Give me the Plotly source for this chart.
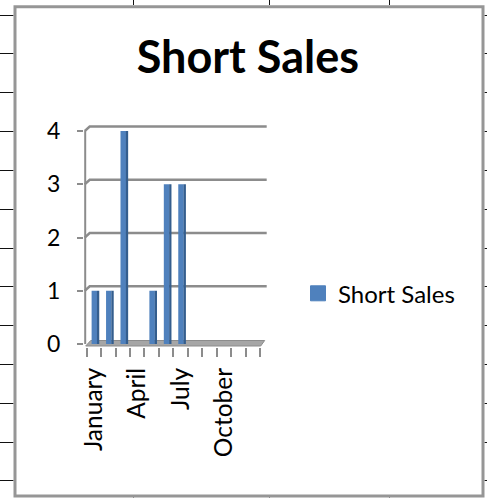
import plotly.graph_objects as go

# ---------------- data ----------------
months = ["January", "February", "March", "April", "May", "June",
          "July", "August", "September", "October", "November", "December"]
short_sales = [1, 1, 4, 0, 1, 3, 3, None, None, None, None, None]
x_tick_text = ["January", "", "", "April", "", "", "July", "", "", "October", "", ""]
y_tick_vals = [0, 1, 2, 3, 4]
series_name = "Short Sales"
chart_title = "Short Sales"

# ---------------- geometry / style ----------------
W, H = 487, 498
L, R, T, B = 84, 268, 124, 347          # plot area in pixels
FONT = "Lato"
FRONT = "#4f81bd"
SIDE = "#345e8e"
GRID = "#8c8c8c"


def px(x):
    return (x - L) / (R - L)


def py(y):
    return (B - y) / (B - T)


fig = go.Figure()

# front face of the 3-D columns
fig.add_trace(go.Bar(
    x=months, y=short_sales, name=series_name,
    offset=-0.16, width=0.38,
    marker=dict(color=FRONT, line=dict(width=0)),
    showlegend=False, hoverinfo="skip"))
# darker side face of the 3-D columns
fig.add_trace(go.Bar(
    x=months, y=short_sales, name=series_name,
    offset=0.21, width=0.16,
    marker=dict(color=SIDE, line=dict(width=0)),
    showlegend=False, hoverinfo="skip"))
# legend entry
fig.add_trace(go.Scatter(
    x=[None], y=[None], mode="markers", name=series_name,
    marker=dict(symbol="square", size=15, color=FRONT,
                line=dict(color=FRONT, width=1)),
    showlegend=True))

shapes = []
# back-wall gridlines (with small perspective diagonal at the left)
for v in y_tick_vals[1:]:
    shapes.append(dict(
        type="path", layer="below",
        xref="x", yref="y", xsizemode="pixel", ysizemode="pixel",
        xanchor=-0.5, yanchor=v,
        path="M -2,0 L 3,4.5 L 180,4.5",
        line=dict(color=GRID, width=2.5)))
# floor
shapes.append(dict(
    type="path", layer="below",
    xref="x", yref="y", xsizemode="pixel", ysizemode="pixel",
    xanchor=-0.5, yanchor=0,
    path="M -1,-2 L 174,-2 L 178,3.5 L 4,3.5 Z",
    fillcolor="#a6a6a6", line=dict(color=GRID, width=1)))
# front value axis line
shapes.append(dict(
    type="line", layer="below",
    xref="x", yref="y", xsizemode="pixel",
    xanchor=-0.5, x0=-1.5, x1=-1.5, y0=0, y1=4,
    line=dict(color=GRID, width=2)))

# spreadsheet grid visible around the chart
rows = [15.5, 53.5, 92.5, 131.5, 170.5, 209.5, 248.5, 286.5, 325.5, 364.5,
        403.5, 442.5, 480.5]
cols = [133.5, 269.5, 389.5]
for r in rows:
    shapes.append(dict(type="line", xref="paper", yref="paper",
                       x0=px(0), x1=px(13.5), y0=py(r), y1=py(r),
                       line=dict(color="#111111", width=1)))
    shapes.append(dict(type="line", xref="paper", yref="paper",
                       x0=px(484.5), x1=px(487), y0=py(r), y1=py(r),
                       line=dict(color="#111111", width=1)))
for c in cols:
    shapes.append(dict(type="line", xref="paper", yref="paper",
                       x0=px(c), x1=px(c), y0=py(0), y1=py(5),
                       line=dict(color="#111111", width=1)))
    shapes.append(dict(type="line", xref="paper", yref="paper",
                       x0=px(c), x1=px(c), y0=py(497.5), y1=py(498),
                       line=dict(color="#111111", width=1)))
# chart border
shapes.append(dict(type="rect", xref="paper", yref="paper",
                   x0=px(15), x1=px(483), y0=py(6.7), y1=py(496),
                   line=dict(color="#969696", width=3),
                   fillcolor="rgba(0,0,0,0)"))

y0_px = 344.0
unit = 53.25
fig.update_layout(
    width=W, height=H,
    margin=dict(l=L, r=W - R, t=T, b=H - B, pad=0),
    paper_bgcolor="white", plot_bgcolor="rgba(0,0,0,0)",
    barmode="overlay",
    font=dict(family=FONT, color="black"),
    title=dict(text="<b>" + chart_title + "</b>", x=0.509, xanchor="center",
               xref="container", yref="container",
               y=1 - 57.5 / H, yanchor="middle",
               font=dict(size=45, family=FONT, color="black")),
    legend=dict(xref="container", yref="container",
                x=298 / W, xanchor="left", y=1 - 293.7 / H, yanchor="middle",
                font=dict(size=24, family=FONT, color="black"),
                bgcolor="rgba(0,0,0,0)", itemclick=False),
    shapes=shapes,
    xaxis=dict(type="category", categoryorder="array", categoryarray=months,
               tickvals=months, ticktext=x_tick_text, tickson="boundaries",
               range=[-0.5 - (86.7 - L) / 14.44, 11.5 + (R - 260) / 14.44],
               ticks="outside", ticklen=9, tickwidth=2, tickcolor=GRID,
               tickangle=-90, ticklabelstandoff=15,
               tickfont=dict(size=24.5, family=FONT, color="black"),
               showgrid=False, showline=False, zeroline=False,
               fixedrange=True),
    yaxis=dict(range=[-(B - y0_px) / unit, 4 + (y0_px - 4 * unit - T) / unit],
               tickvals=y_tick_vals, ticks="outside", ticklen=6, tickwidth=2,
               tickcolor=GRID, ticklabelstandoff=12,
               tickfont=dict(size=23, family=FONT, color="black"),
               showgrid=False, showline=False, zeroline=False,
               fixedrange=True),
)

fig.write_html("out.html", config={"displayModeBar": False},
               post_script="document.body.style.margin='0';"
                           "document.body.style.overflow='hidden';")
